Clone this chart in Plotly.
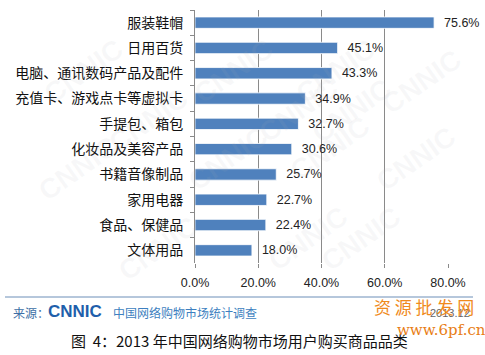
import plotly.graph_objects as go

categories = ["服装鞋帽", "日用百货", "电脑、通讯数码产品及配件", "充值卡、游戏点卡等虚拟卡",
              "手提包、箱包", "化妆品及美容产品", "书籍音像制品", "家用电器", "食品、保健品", "文体用品"]
values = [75.6, 45.1, 43.3, 34.9, 32.7, 30.6, 25.7, 22.7, 22.4, 18.0]
x_ticks = [0, 20, 40, 60, 80]
x_tick_labels = ["0.0%", "20.0%", "40.0%", "60.0%", "80.0%"]

CJK = "Noto Sans CJK SC"
LAT = "Liberation Sans"

W, H = 485, 355
ML, MR, MT, MB = 195, 37, 10, 92
PW, PH = W - ML - MR, H - MT - MB


def px2paper(x, y):
    return (x - ML) / PW, (H - MB - y) / PH


fig = go.Figure()
fig.add_trace(go.Bar(
    x=values, y=categories, orientation="h",
    width=0.45,
    marker=dict(color="#4F81BD", line=dict(color="#ffffff", width=0.8)),
    text=[f"  {v:.1f}%" for v in values],
    textposition="outside", constraintext="none", cliponaxis=False,
    textfont=dict(family=LAT, size=12.5, color="#222222"),
    hoverinfo="skip",
))

# faint CNNIC watermarks (pixel positions)
wm = [(35, 30), (185, 30), (335, 30), (470, 40),
      (100, 120), (250, 110), (400, 110),
      (30, 210), (180, 200), (330, 190), (465, 200),
      (110, 290), (260, 280), (410, 280)]
annotations = []
for (xx, yy) in wm:
    px, py = px2paper(xx, yy)
    annotations.append(dict(x=px, y=py, xref="paper", yref="paper", text="<b>CNNIC</b>",
                            showarrow=False, textangle=-35,
                            font=dict(family=LAT, size=28, color="rgba(170,175,185,0.09)")))


def pa(x, y, text, size, color, family=CJK, xanchor="left", bold=False):
    px, py = px2paper(x, y)
    return dict(x=px, y=py, xref="paper", yref="paper",
                text=f"<b>{text}</b>" if bold else text, showarrow=False,
                xanchor=xanchor, yanchor="middle",
                font=dict(family=family, size=size, color=color))


annotations += [
    pa(11, 312, "来源：", 12, "#3d6fa6"),
    pa(46, 311, "CNNIC", 17, "#1f5fab", family=LAT, bold=True),
    pa(111, 312, "中国网络购物市场统计调查", 12, "#3d7fc0"),
    pa(472, 313, "2013.12", 11, "#666666", family=LAT, xanchor="right"),
    pa(69, 340, "图  4：2013 年中国网络购物市场用户购买商品品类", 15, "#111111"),
    pa(372, 306, "资 源 批 发 网", 17, "#f08a1c"),
    pa(395, 330, "www.6pf.cn", 15, "#e87d15", family="DejaVu Serif"),
]

lx0, ly = px2paper(5, 297)
lx1, _ = px2paper(473, 297)

fig.update_layout(
    width=W, height=H,
    margin=dict(l=ML, r=MR, t=MT, b=MB),
    paper_bgcolor="white", plot_bgcolor="white",
    showlegend=False,
    annotations=annotations,
    shapes=[dict(type="line", xref="paper", yref="paper",
                 x0=lx0, x1=lx1, y0=ly, y1=ly,
                 line=dict(color="#6d8fb8", width=1))],
    xaxis=dict(range=[0, 80], tickvals=x_ticks, ticktext=x_tick_labels,
               showgrid=True, gridcolor="#8a8a8a", gridwidth=1,
               zeroline=False, showline=False,
               ticks="outside", ticklen=4, tickcolor="#8a8a8a",
               tickfont=dict(family=LAT, size=12.5, color="#222222"),
               ticklabelstandoff=4,
               fixedrange=True),
    yaxis=dict(autorange="reversed", showgrid=False, zeroline=False,
               showline=True, linecolor="#8a8a8a", linewidth=1,
               ticks="outside", ticklen=4, tickcolor="#8a8a8a", tickson="boundaries",
               tickfont=dict(family=CJK, size=14, color="#111111"),
               ticklabelstandoff=8,
               fixedrange=True),
)

fig.write_html("out.html")
